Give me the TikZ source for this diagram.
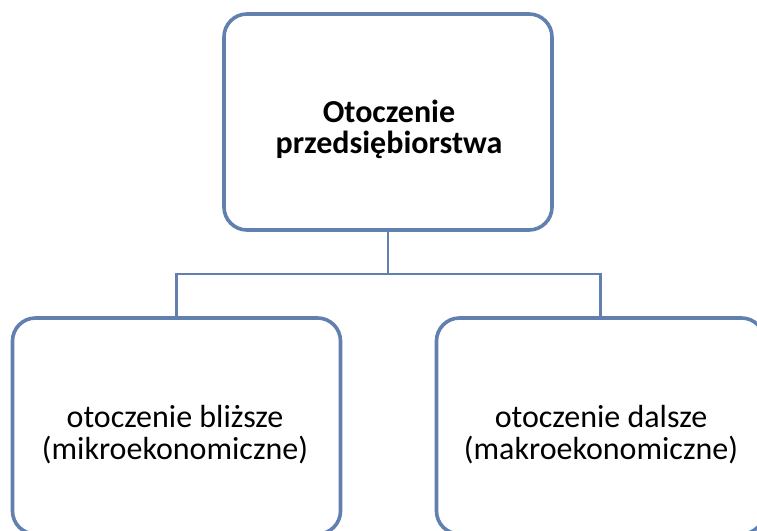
\documentclass[tikz,border=0pt]{standalone}
\usepackage{fontspec}
\setmainfont{Carlito}
\definecolor{framecol}{RGB}{97,127,175}
\begin{document}
\begin{tikzpicture}[x=1pt,y=-1pt,
  box/.style={draw=framecol, line width=3.6pt, rounded corners=23pt,
    minimum width=328pt, minimum height=216pt, inner sep=0pt, fill=white},
  label/.style={align=center, inner sep=0pt, text=black,
    font=\fontsize{32}{31.5}\selectfont},
  link/.style={draw=framecol, line width=2.8pt}]
\useasboundingbox (0,0) rectangle (757,530);
\clip (0,0) rectangle (757,530);
\fill[white] (0,0) rectangle (757,530);

% the three boxes
\node[box] (top) at (388,122) {};
\node[box] (left) at (176.5,426) {};
\node[box] (right) at (600.5,426) {};

% tree connectors
\coordinate (junction) at (388,274);
\draw[link] (top.south) -- (junction);
\draw[link] (junction) -| (left.north);
\draw[link] (junction) -| (right.north);

% box captions
\node[label, font=\fontsize{32}{31.5}\selectfont\bfseries] (toptext) at (389,129.6)
  {Otoczenie\\przedsiębiorstwa};
\node[label] (lefttext) at (175,434.6) {otoczenie bliższe\\(mikroekonomiczne)};
\node[label] (righttext) at (601,434.6) {otoczenie dalsze\\(makroekonomiczne)};
\end{tikzpicture}
\end{document}
